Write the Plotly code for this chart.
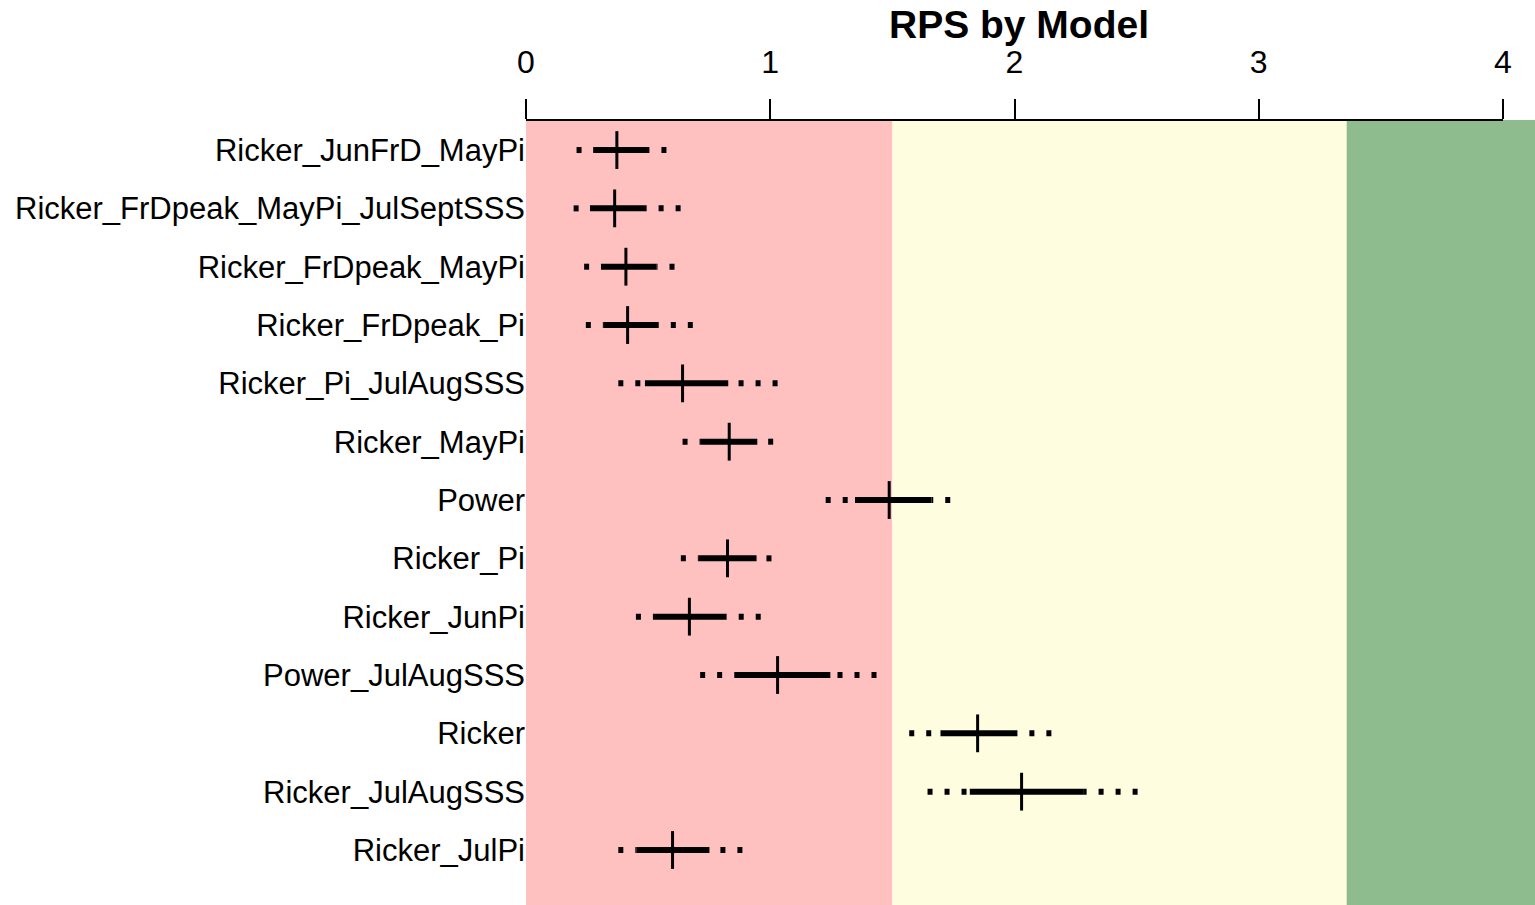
import plotly.graph_objects as go

models = ["Ricker_JunFrD_MayPi", "Ricker_FrDpeak_MayPi_JulSeptSSS", "Ricker_FrDpeak_MayPi",
          "Ricker_FrDpeak_Pi", "Ricker_Pi_JulAugSSS", "Ricker_MayPi", "Power", "Ricker_Pi",
          "Ricker_JunPi", "Power_JulAugSSS", "Ricker", "Ricker_JulAugSSS", "Ricker_JulPi"]
lo95 = [0.207, 0.195, 0.238, 0.245, 0.378, 0.641, 1.227, 0.634, 0.450, 0.713, 1.569, 1.644, 0.378]
lo50 = [0.275, 0.262, 0.307, 0.316, 0.487, 0.716, 1.347, 0.705, 0.528, 0.853, 1.697, 1.817, 0.453]
med = [0.372, 0.363, 0.409, 0.416, 0.641, 0.832, 1.487, 0.825, 0.669, 1.030, 1.849, 2.029, 0.600]
hi50 = [0.505, 0.494, 0.535, 0.541, 0.828, 0.947, 1.660, 0.944, 0.821, 1.246, 2.012, 2.284, 0.751]
hi95 = [0.575, 0.633, 0.608, 0.683, 1.030, 1.012, 1.737, 1.005, 0.961, 1.435, 2.151, 2.504, 0.886]
tick_vals = [0, 1, 2, 3, 4]
band_edges = [0, 1.5, 3.36, 4.2]
band_colors = ["#FFC0C0", "#FFFDDF", "#8FBC8F"]

rows = list(range(1, len(models) + 1))

fig = go.Figure()

# dotted outer segments (each drawn from the outer end inward)
dx, dy = [], []
for i, r in enumerate(rows):
    dx += [lo95[i], lo50[i], None, hi95[i], hi50[i], None]
    dy += [r, r, None, r, r, None]
fig.add_trace(go.Scatter(x=dx, y=dy, mode="lines", connectgaps=False,
                         line=dict(color="black", width=6, dash="5px,12px"),
                         hoverinfo="skip", showlegend=False))

# thick inner segments
tx, ty = [], []
for i, r in enumerate(rows):
    tx += [lo50[i], hi50[i], None]
    ty += [r, r, None]
fig.add_trace(go.Scatter(x=tx, y=ty, mode="lines", connectgaps=False,
                         line=dict(color="black", width=6),
                         hoverinfo="skip", showlegend=False))

# median ticks
fig.add_trace(go.Scatter(x=med, y=rows, mode="markers",
                         marker=dict(symbol="line-ns", size=27,
                                     line=dict(width=3, color="black")),
                         showlegend=False))

shapes = []
for k in range(len(band_colors)):
    shapes.append(dict(type="rect", xref="x", yref="paper", x0=band_edges[k], x1=band_edges[k + 1],
                       y0=0, y1=1, fillcolor=band_colors[k], line=dict(width=0), layer="below"))
shapes.append(dict(type="line", xref="x", yref="paper", x0=tick_vals[0], x1=tick_vals[-1],
                   y0=1, y1=1, line=dict(color="black", width=2)))

fig.update_layout(
    width=1535, height=905,
    margin=dict(l=526, r=0, t=120, b=0),
    paper_bgcolor="white", plot_bgcolor="white",
    font=dict(family="Liberation Sans, Arial, sans-serif", color="black"),
    title=dict(text="<b>RPS by Model</b>", font=dict(size=39, color="black"),
               x=0.4886, xref="paper", xanchor="center",
               y=1 - 24 / 905, yref="container", yanchor="middle"),
    shapes=shapes,
    xaxis=dict(side="top", range=[0, 1009 / 244.25], tickvals=tick_vals,
               ticktext=[str(v) for v in tick_vals], ticks="outside", ticklen=20,
               tickwidth=2, tickcolor="black", showline=False, showgrid=False,
               zeroline=False, tickfont=dict(size=32), ticklabelstandoff=13),
    yaxis=dict(range=[13.943, 0.485], tickvals=rows, ticktext=models, ticks="",
               showline=False, showgrid=False, zeroline=False,
               tickfont=dict(size=31), ticklabelstandoff=0),
)

fig.write_html("out.html")
